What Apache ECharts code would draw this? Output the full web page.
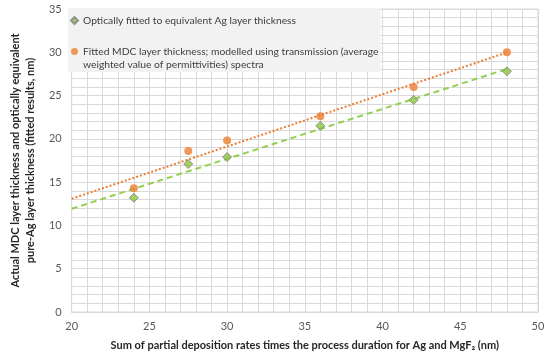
<!DOCTYPE html>
<html><head><meta charset="utf-8">
<script src="https://cdn.jsdelivr.net/npm/echarts@6/dist/echarts.min.js"></script>
<style>html,body{margin:0;padding:0;background:#fff}#c{width:550px;height:358px}</style>
</head><body><div id="c"></div>
<script>
const xValues = [24, 27.5, 30, 36, 42, 48];
const equivAg = [13.2, 17.1, 17.9, 21.5, 24.5, 27.8];
const mdcFit = [14.3, 18.6, 19.8, 22.6, 26.0, 30.0];
const xTicks = [20, 25, 30, 35, 40, 45, 50];
const yTicks = [0, 5, 10, 15, 20, 25, 30, 35];
const trendFrom = 20;

const nameA = 'Optically fitted to equivalent Ag layer thickness';
const nameB = 'Fitted MDC layer thickness; modelled using transmission (average weighted value of permittivities) spectra';

function fit(xs, ys) {
  const n = xs.length;
  const mx = xs.reduce((a, b) => a + b, 0) / n;
  const my = ys.reduce((a, b) => a + b, 0) / n;
  let sxy = 0, sxx = 0;
  for (let i = 0; i < n; i++) { sxy += (xs[i] - mx) * (ys[i] - my); sxx += (xs[i] - mx) ** 2; }
  const k = sxy / sxx, b = my - k * mx;
  const x1 = Math.max(...xs);
  return [[trendFrom, k * trendFrom + b], [x1, k * x1 + b]];
}
const pairs = ys => xValues.map((x, i) => [x, ys[i]]);

const FONT = 'Lato, "Liberation Sans", Arial, sans-serif';
const chart = echarts.init(document.getElementById('c'));
const gridLine = { show: true, lineStyle: { color: '#d9d9d9', width: 1 } };
chart.setOption({
  animation: false,
  textStyle: { fontFamily: FONT },
  grid: { left: 59, right: 12, top: 9, bottom: 46, show: true, borderColor: '#d9d9d9', borderWidth: 1 },
  legend: {
    data: [nameA, nameB],
    orient: 'vertical',
    left: 68, top: 8,
    padding: [6, 2, 1, 2],
    itemGap: 5,
    itemWidth: 7, itemHeight: 7,
    backgroundColor: '#f2f2f2',
    textStyle: { fontFamily: FONT, fontSize: 10.3, color: '#404040', lineHeight: 13 },
    formatter: n => n === nameB ? '\nFitted MDC layer thickness; modelled using transmission (average\nweighted value of permittivities) spectra' : n
  },
  xAxis: {
    type: 'value', min: xTicks[0], max: xTicks[xTicks.length - 1], interval: 5,
    axisLine: { show: true, lineStyle: { color: '#d9d9d9' } },
    axisTick: { show: false },
    axisLabel: { fontSize: 11, color: '#595959', fontFamily: FONT, margin: 9 },
    splitLine: gridLine,
    minorTick: { show: false, splitNumber: 5 },
    minorSplitLine: gridLine,
    name: 'Sum of partial deposition rates times the process duration for Ag and MgF₂ (nm)',
    nameLocation: 'middle', nameGap: 28,
    nameTextStyle: { fontSize: 11, fontWeight: 'bold', color: '#262626', fontFamily: FONT }
  },
  yAxis: {
    type: 'value', min: yTicks[0], max: yTicks[yTicks.length - 1], interval: 5,
    axisLine: { show: true, lineStyle: { color: '#d9d9d9' } },
    axisTick: { show: false },
    axisLabel: { fontSize: 11, color: '#595959', fontFamily: FONT, margin: 10 },
    splitLine: gridLine,
    minorTick: { show: false, splitNumber: 5 },
    minorSplitLine: gridLine,
    name: 'Actual MDC layer thickness and optically equivalent\npure-Ag layer thickness (fitted results, nm)',
    nameLocation: 'middle', nameGap: 33, nameRotate: 90,
    nameTextStyle: { fontSize: 11, fontWeight: 'bold', color: '#262626', fontFamily: FONT, lineHeight: 15 }
  },
  series: [
    { name: nameA + ' trend', type: 'line', data: fit(xValues, equivAg), symbol: 'none',
      lineStyle: { color: '#92d050', width: 2, type: [6, 4] }, z: 2 },
    { name: nameB + ' trend', type: 'line', data: fit(xValues, mdcFit), symbol: 'none',
      lineStyle: { color: '#ed7d31', width: 2, type: [2, 2] }, z: 2 },
    { name: nameA, type: 'scatter', data: pairs(equivAg), symbol: 'diamond', symbolSize: 9,
      itemStyle: { color: '#8cc63f', borderColor: '#7f7f7f', borderWidth: 1 }, z: 4 },
    { name: nameB, type: 'scatter', data: pairs(mdcFit), symbol: 'circle', symbolSize: 8,
      itemStyle: { color: '#ed7d31' }, z: 5 }
  ]
});
</script></body></html>
